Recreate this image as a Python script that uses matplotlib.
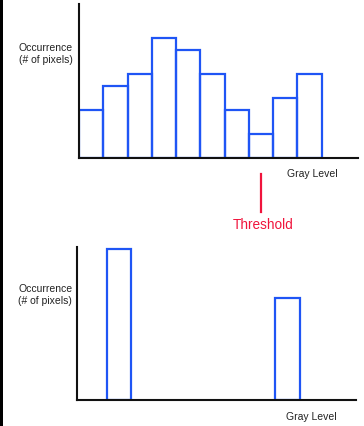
import matplotlib.pyplot as plt
from matplotlib.patches import Rectangle

# top histogram: counts per gray level bin
top_counts = [4, 6, 7, 10, 9, 7, 4, 2, 5, 7]
# bottom histogram after thresholding
bottom_pos = [1.24, 8.18]
bottom_counts = [12.6, 8.5]
threshold = 7.5

ylabel = "Occurrence\n(# of pixels)"
xlabel = "Gray Level"
blue = '#1f55f5'

fig = plt.figure(figsize=(3.64, 4.27), dpi=100)
plt.rcParams['font.family'] = ['Liberation Sans', 'DejaVu Sans']

def style(ax):
    for s in ['top', 'right']:
        ax.spines[s].set_visible(False)
    for s in ['left', 'bottom']:
        ax.spines[s].set_linewidth(1.5)
        ax.spines[s].set_color('#111111')
    ax.set_xticks([])
    ax.set_yticks([])
    ax.set_xlim(0, 11.5)
    ax.set_ylim(0, 12.8)
    ax.patch.set_alpha(0)

ax1 = fig.add_axes([0.217, 0.6276, 0.7665, 0.3607])
style(ax1)
ax1.bar(range(len(top_counts)), top_counts, width=1, align='edge',
        fill=False, edgecolor=blue, linewidth=1.6)
ax1.plot([threshold, threshold], [-1.33, -4.5], color='#f0143c', lw=1.6, clip_on=False)

ax2 = fig.add_axes([0.2115, 0.0602, 0.7665, 0.3598])
style(ax2)
ax2.bar(bottom_pos, bottom_counts, width=1, align='edge',
        fill=False, edgecolor=blue, linewidth=1.6)

fig.text(0.126, 0.8735, ylabel, ha='center', va='center', fontsize=7.5,
         color='#222222', linespacing=1.3)
fig.text(0.124, 0.309, ylabel, ha='center', va='center', fontsize=7.5,
         color='#222222', linespacing=1.3)
fig.text(0.857, 0.5925, xlabel, ha='center', va='center', fontsize=7.5, color='#222222')
fig.text(0.854, 0.024, xlabel, ha='center', va='center', fontsize=7.5, color='#222222')
fig.text(0.724, 0.473, "Threshold", ha='center', va='center', fontsize=9.8, color='#f0143c')

# dark strip on the left edge
fig.add_artist(Rectangle((0, 0), 3 / 364, 1, transform=fig.transFigure,
                         color='black', lw=0))

fig.savefig('out.png', dpi=100)
